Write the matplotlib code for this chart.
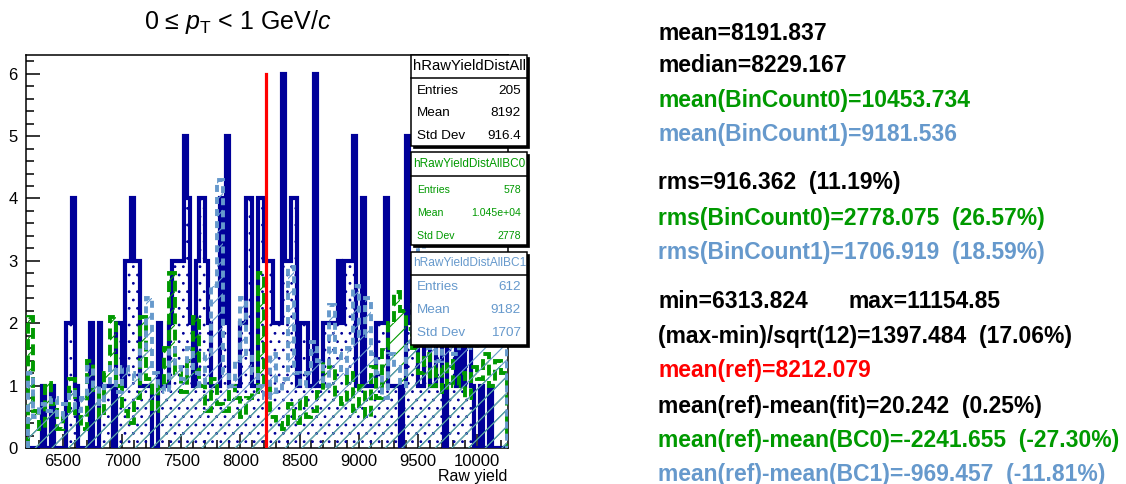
import numpy as np
import matplotlib
matplotlib.use('Agg')
import matplotlib.pyplot as plt
from matplotlib.ticker import MultipleLocator
from matplotlib.patches import Rectangle

plt.rcParams['font.family'] = ['Liberation Sans', 'DejaVu Sans']
plt.rcParams['mathtext.fontset'] = 'custom'
plt.rcParams['mathtext.rm'] = 'Liberation Sans'
plt.rcParams['mathtext.it'] = 'Liberation Sans:italic'
plt.rcParams['hatch.linewidth'] = 0.8

W, H = 1126, 484

# ---- data ----
# hRawYieldDistAll, 25 wide bins from 6200
edges_all = np.arange(6200, 10251, 25)
counts_all = [0, 0, 0, 0, 0, 1, 0, 0, 1, 0,
              0, 0, 0, 2, 2, 4, 1, 0, 0, 0,
              0, 2, 0, 0, 2, 1, 1, 1, 1, 0,
              2, 2, 1, 3, 3, 4, 3, 3, 1, 1,
              1, 1, 0, 0, 2, 1, 1, 1, 2, 3,
              3, 3, 3, 5, 4, 2, 1, 3, 4, 4,
              3, 2, 1, 1, 1, 4, 2, 5, 1, 1,
              1, 1, 2, 2, 4, 4, 1, 1, 4, 4,
              3, 3, 3, 2, 2, 2, 6, 3, 3, 4,
              4, 1, 2, 2, 2, 1, 1, 6, 1, 1,
              2, 2, 2, 2, 2, 3, 2, 3, 3, 3,
              5, 1, 1, 4, 1, 1, 1, 1, 2, 2,
              2, 4, 1, 1, 1, 1, 0, 1, 5, 2,
              2, 2, 1, 1, 3, 3, 1, 1, 3, 3,
              1, 0, 2, 2, 3, 1, 3, 1, 2, 2,
              1, 0, 0, 1, 0, 0, 1, 0, 0, 0,
              0, 0]

# hRawYieldDistAllBC0 / BC1, 50 wide bins from 6200
edges_bc = np.arange(6200, 10251, 50)
counts_bc0 = [2.1, 0.6, 0.3, 1.05, 0.7, 0.3, 0.6, 1.1, 0.5, 0.3,
              1.4, 0.9, 0.5, 1.2, 2.1, 1.0, 0.6, 0.4, 0.8, 2.1,
              1.1, 0.6, 1.0, 1.6, 2.8, 1.2, 0.9, 1.4, 2.1, 1.0,
              0.6, 1.1, 0.7, 0.6, 1.0, 0.8, 0.5, 0.8, 0.9, 2.8,
              1.0, 0.5, 0.4, 0.3, 0.7, 0.4, 0.8, 0.5, 0.6, 0.9,
              1.4, 1.3, 0.8, 0.7, 1.2, 0.6, 1.0, 0.5, 1.3, 0.8,
              1.6, 2.0, 2.5, 2.2, 1.9, 1.6, 1.2, 1.5, 1.0, 1.3,
              0.9, 1.4, 1.0, 1.2, 0.8, 1.3, 1.1, 1.5, 1.0, 1.4, 1.2]
counts_bc1 = [1.2, 0.5, 0.7, 0.6, 0.8, 0.5, 0.7, 0.9, 0.6, 0.8,
              1.3, 1.0, 0.7, 1.0, 1.3, 0.9, 1.3, 1.2, 1.1, 1.6,
              2.4, 1.2, 1.0, 0.9, 1.6, 1.3, 1.1, 1.6, 1.2, 1.0,
              1.5, 2.6, 4.3, 1.2, 1.0, 1.4, 2.4, 1.5, 1.2, 1.0,
              0.8, 1.5, 0.9, 1.1, 2.9, 1.2, 1.0, 1.2, 1.7, 1.4,
              1.0, 2.3, 1.5, 1.2, 1.6, 2.6, 1.8, 2.4, 1.5, 1.2,
              0.8, 1.5, 1.3, 1.0, 1.7, 2.3, 4.5, 1.6, 2.0, 1.4,
              1.8, 2.2, 1.5, 1.9, 2.4, 1.6, 2.0, 2.5, 1.8, 2.2, 1.9]
mean_ref = 8212.079
ref_height = 6

stats_all = [('Entries', '205'), ('Mean', '8192'), ('Std Dev', '916.4')]
stats_bc0 = [('Entries', '578'), ('Mean', '1.045e+04'), ('Std Dev', '2778')]
stats_bc1 = [('Entries', '612'), ('Mean', '9182'), ('Std Dev', '1707')]

navy = '#000099'
green = '#009900'
lblue = '#6699cc'

right_text = [
    ('mean=8191.837', 'k'),
    ('median=8229.167', 'k'),
    ('mean(BinCount0)=10453.734', green),
    ('mean(BinCount1)=9181.536', lblue),
    ('rms=916.362  (11.19%)', 'k'),
    ('rms(BinCount0)=2778.075  (26.57%)', green),
    ('rms(BinCount1)=1706.919  (18.59%)', lblue),
    ('min=6313.824', 'k'),
    ('(max-min)/sqrt(12)=1397.484  (17.06%)', 'k'),
    ('mean(ref)=8212.079', 'red'),
    ('mean(ref)-mean(fit)=20.242  (0.25%)', 'k'),
    ('mean(ref)-mean(BC0)=-2241.655  (-27.30%)', green),
    ('mean(ref)-mean(BC1)=-969.457  (-11.81%)', lblue),
]
right_y = [34, 66, 101, 134, 183, 218, 252, 302, 337, 371, 406, 441, 474]

fig = plt.figure(figsize=(W / 100, H / 100), dpi=100)
ax = fig.add_axes([26 / W, 1 - 448 / H, (508 - 26) / W, (448 - 55) / H])

# navy histogram: dotted fill + thick outline
ax.stairs(counts_all, edges_all, fill=True, facecolor='none', edgecolor=navy,
          hatch='..', linewidth=0, zorder=2)
ax.stairs(counts_all, edges_all, color=navy, linewidth=3.0, zorder=3)

# BC0 and BC1: hatched fill + thick dashed outline
ax.stairs(counts_bc0, edges_bc, fill=True, facecolor='none', edgecolor=green,
          hatch='//', linewidth=0, zorder=4)
ax.stairs(counts_bc0, edges_bc, color=green, linewidth=2.8,
          linestyle=(0, (2.8, 1.4)), zorder=5)
ax.stairs(counts_bc1, edges_bc, fill=True, facecolor='none', edgecolor=lblue,
          hatch='//', linewidth=0, zorder=6)
ax.stairs(counts_bc1, edges_bc, color=lblue, linewidth=2.8,
          linestyle=(0, (1.8, 1.3)), zorder=7)

ax.plot([mean_ref, mean_ref], [0, ref_height], color='red', linewidth=2.3, zorder=8)

ax.set_xlim(6187, 10262)
ax.set_ylim(0, 6.3)
ax.xaxis.set_major_locator(MultipleLocator(500))
ax.xaxis.set_minor_locator(MultipleLocator(100))
ax.yaxis.set_major_locator(MultipleLocator(1))
ax.yaxis.set_minor_locator(MultipleLocator(0.2))
ax.tick_params(which='both', direction='in', top=False, right=False,
               labelsize=12, width=1.1, pad=4)
ax.tick_params(axis='y', pad=6)
ax.tick_params(which='major', length=10)
ax.tick_params(which='minor', length=5.5)
ax.set_xticks([6500, 7000, 7500, 8000, 8500, 9000, 9500, 10000])
for s in ax.spines.values():
    s.set_linewidth(1.1)

fig.text(507 / W, 1 - 476 / H, 'Raw yield', ha='right', va='center', fontsize=11.5)
fig.text(238 / W, 1 - 22 / H, r'0 ≤ $p_{\mathrm{T}}$ < 1 GeV/$c$', ha='center',
         va='center', fontsize=18)


def stat_box(y0, y1, ysep, ytitle, title, rows, rows_y, color, fs_title, fs_rows):
    x0, x1 = 411, 527
    fig.add_artist(Rectangle(((x0 + 1.5) / W, 1 - (y1 + 1.5) / H), (x1 - x0) / W,
                             (y1 - y0) / H, transform=fig.transFigure,
                             facecolor='k', edgecolor='k', linewidth=0.5, zorder=20))
    fig.add_artist(Rectangle((x0 / W, 1 - y1 / H), (x1 - x0) / W, (y1 - y0) / H,
                             transform=fig.transFigure, facecolor='white',
                             edgecolor='k', linewidth=1.1, zorder=21))
    fig.add_artist(plt.Line2D([x0 / W, x1 / W], [1 - ysep / H, 1 - ysep / H],
                              color='k', linewidth=1.1, zorder=22))
    fig.text((x0 + 2) / W, 1 - ytitle / H, title, color=color, fontsize=fs_title,
             va='center', ha='left', zorder=23)
    for (lab, val), yy in zip(rows, rows_y):
        fig.text((x0 + 6) / W, 1 - yy / H, lab, color=color, fontsize=fs_rows,
                 va='center', ha='left', zorder=23)
        fig.text((x1 - 6) / W, 1 - yy / H, val, color=color, fontsize=fs_rows,
                 va='center', ha='right', zorder=23)


stat_box(55, 146, 78, 66, 'hRawYieldDistAll', stats_all, [91, 113, 136], 'k', 10.7, 9.7)
stat_box(152, 245, 176, 164, 'hRawYieldDistAllBC0', stats_bc0, [190, 213, 236], green, 8.5, 7.6)
stat_box(252, 345, 275, 263, 'hRawYieldDistAllBC1', stats_bc1, [287, 310, 333], lblue, 8.6, 9.7)

for (txt, col), yy in zip(right_text, right_y):
    fig.text(658 / W, 1 - yy / H, txt, color=col, fontsize=16.5, fontweight='bold',
             va='center', ha='left')
fig.text(848 / W, 1 - right_y[7] / H, 'max=11154.85', color='k', fontsize=16.5,
         fontweight='bold', va='center', ha='left')

fig.savefig('out.png', dpi=100)
